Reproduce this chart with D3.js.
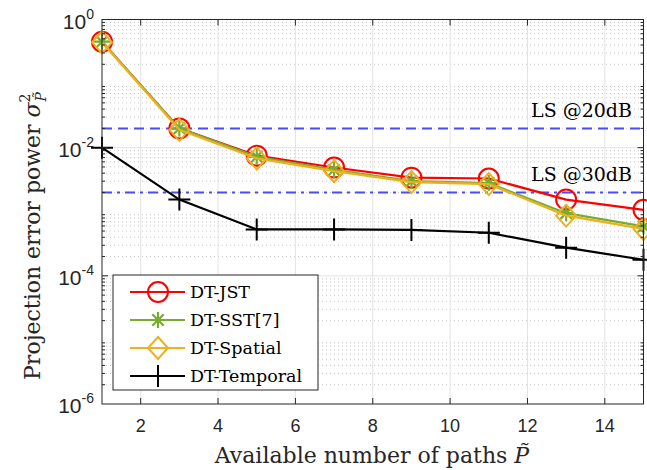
<!DOCTYPE html>
<html>
<head>
<meta charset="utf-8">
<script src="https://cdn.jsdelivr.net/npm/d3@7"></script>
<style>
  body { margin: 0; background: #fff; }
  svg { display: block; }
</style>
</head>
<body>
<script>
// data
var paths = [1, 3, 5, 7, 9, 11, 13, 15];
var jst      = [0.45, 0.020, 0.0075, 0.0049, 0.0034, 0.0033, 0.00155, 0.00107];
var sst      = [0.45, 0.020, 0.0072, 0.0045, 0.0030, 0.0028, 0.00095, 0.00059];
var spatial  = [0.44, 0.019, 0.0068, 0.0043, 0.0029, 0.0027, 0.00087, 0.00054];
var temporal = [0.010, 0.00155, 0.00053, 0.00053, 0.00052, 0.00047, 0.000275, 0.000178];
var ls_levels = [0.02, 0.002];
var ls_labels = ['LS @20dB', 'LS @30dB'];
var x_ticks = [2, 4, 6, 8, 10, 12, 14];
var y_exps = [0, -2, -4, -6];

function plot_it() {
  var width = 647, height = 470;
  var pl = 102, pr = 643.5, pt = 19.5, pb = 404;

  var svg = d3.select('body').append('svg').attr('width', width).attr('height', height);

  var x = d3.scaleLinear().domain([1, 15]).range([pl, pr]);
  var y = d3.scaleLog().domain([1e-6, 1]).range([pb, pt]);

  var g = svg.append('g');

  // grid: minor dotted, major solid
  var minors = [];
  for (var e = -6; e < 0; e++)
    for (var m = 2; m <= 9; m++) minors.push(m * Math.pow(10, e));
  g.selectAll('.minor').data(minors).enter().append('line')
    .attr('x1', pl).attr('x2', pr)
    .attr('y1', d => y(d)).attr('y2', d => y(d))
    .attr('stroke', '#c8c8c8').attr('stroke-width', 1).attr('stroke-dasharray', '1,3');
  g.selectAll('.majy').data([1e-2, 1e-4]).enter().append('line')
    .attr('x1', pl).attr('x2', pr)
    .attr('y1', d => y(d)).attr('y2', d => y(d))
    .attr('stroke', '#e3e3e3').attr('stroke-width', 1);
  g.selectAll('.majx').data(x_ticks).enter().append('line')
    .attr('x1', d => x(d)).attr('x2', d => x(d))
    .attr('y1', pt).attr('y2', pb)
    .attr('stroke', '#e3e3e3').attr('stroke-width', 1);

  // LS reference lines
  svg.selectAll('.ls').data(ls_levels).enter().append('line')
    .attr('x1', pl).attr('x2', pr)
    .attr('y1', d => y(d)).attr('y2', d => y(d))
    .attr('stroke', '#4a4aff').attr('stroke-width', 2)
    .attr('stroke-dasharray', (d, i) => i == 0 ? '10,6' : '10,5,3,5');
  svg.selectAll('.lslab').data(ls_levels).enter().append('text')
    .attr('x', 632).attr('y', d => y(d) - 11)
    .attr('text-anchor', 'end')
    .attr('font-family', 'DejaVu Serif, serif').attr('font-size', 19)
    .text((d, i) => ls_labels[i]);

  // series
  var series = [
    {name: 'DT-JST', values: jst, color: '#ff0000', marker: 'circle'},
    {name: 'DT-SST[7]', values: sst, color: '#77ac30', marker: 'star'},
    {name: 'DT-Spatial', values: spatial, color: '#edb120', marker: 'diamond'},
    {name: 'DT-Temporal', values: temporal, color: '#000000', marker: 'plus'}
  ];

  var line = d3.line().x(d => x(d[0])).y(d => y(d[1]));

  function draw_marker(sel, type, color) {
    if (type == 'circle') {
      sel.append('circle').attr('r', 10).attr('fill', 'none').attr('stroke', color).attr('stroke-width', 2);
    } else if (type == 'diamond') {
      sel.append('path').attr('d', 'M0,-11L10,0L0,11L-10,0Z').attr('fill', 'none').attr('stroke', color).attr('stroke-width', 2);
    } else if (type == 'star') {
      sel.append('path').attr('d', 'M0,-8V8M-8,0H8M-5.7,-5.7L5.7,5.7M-5.7,5.7L5.7,-5.7').attr('stroke', color).attr('stroke-width', 2.2);
    } else {
      sel.append('path').attr('d', 'M0,-11V11M-11,0H11').attr('stroke', color).attr('stroke-width', 2);
    }
  }

  series.forEach(s => {
    var pts = paths.map((p, i) => [p, s.values[i]]);
    svg.append('path').datum(pts).attr('d', line)
      .attr('fill', 'none').attr('stroke', s.color).attr('stroke-width', 2.2);
    pts.forEach(p => {
      var mk = svg.append('g').attr('transform', 'translate(' + x(p[0]) + ',' + y(p[1]) + ')');
      draw_marker(mk, s.marker, s.color);
    });
  });

  // axes box and ticks
  var axc = '#262626';
  svg.append('rect').attr('x', pl).attr('y', pt).attr('width', pr - pl).attr('height', pb - pt)
    .attr('fill', 'none').attr('stroke', axc).attr('stroke-width', 1);
  x_ticks.forEach(t => {
    svg.append('line').attr('x1', x(t)).attr('x2', x(t)).attr('y1', pb).attr('y2', pb - 6).attr('stroke', axc);
    svg.append('line').attr('x1', x(t)).attr('x2', x(t)).attr('y1', pt).attr('y2', pt + 6).attr('stroke', axc);
    svg.append('text').attr('x', x(t)).attr('y', pb + 28).attr('text-anchor', 'middle')
      .attr('font-family', 'Liberation Sans, Arial, sans-serif').attr('font-size', 18).attr('fill', axc).text(t);
  });
  minors.concat([1e-2, 1e-4]).forEach(v => {
    var len = (v == 1e-2 || v == 1e-4) ? 6 : 3;
    svg.append('line').attr('x1', pl).attr('x2', pl + len).attr('y1', y(v)).attr('y2', y(v)).attr('stroke', axc);
    svg.append('line').attr('x1', pr).attr('x2', pr - len).attr('y1', y(v)).attr('y2', y(v)).attr('stroke', axc);
  });
  y_exps.forEach(e => {
    var t = svg.append('text').attr('x', 94).attr('y', y(Math.pow(10, e)) + 9).attr('text-anchor', 'end')
      .attr('font-family', 'Liberation Sans, Arial, sans-serif').attr('font-size', 21).attr('fill', axc);
    t.append('tspan').text('10');
    t.append('tspan').attr('dy', -10).attr('font-size', 14).text(e);
  });

  // axis labels
  var xl = svg.append('text').attr('x', 372).attr('y', 463).attr('text-anchor', 'middle')
    .attr('font-family', 'DejaVu Serif, serif').attr('font-size', 22).attr('fill', '#262626');
  xl.append('tspan').text('Available number of paths ');
  xl.append('tspan').attr('font-style', 'italic').text('P\u0303');

  var yl = svg.append('text').attr('transform', 'translate(40,236) rotate(-90)')
    .attr('text-anchor', 'middle')
    .attr('font-family', 'DejaVu Serif, serif').attr('font-size', 22).attr('fill', '#262626');
  yl.append('tspan').text('Projection error power ');
  yl.append('tspan').attr('font-style', 'italic').text('\u03c3');
  yl.append('tspan').attr('dy', -10).attr('font-size', 14).text('2');
  yl.append('tspan').attr('dy', 16).attr('dx', -8).attr('font-size', 14).attr('font-style', 'italic').text('P\u0303');

  // legend
  var lg = svg.append('g').attr('transform', 'translate(113,275)');
  lg.append('rect').attr('width', 205).attr('height', 115).attr('fill', '#fff').attr('stroke', axc).attr('stroke-width', 1);
  series.forEach((s, i) => {
    var row = lg.append('g').attr('transform', 'translate(0,' + (17 + i * 28) + ')');
    row.append('line').attr('x1', 17).attr('x2', 72).attr('stroke', s.color).attr('stroke-width', 2.2);
    var mk = row.append('g').attr('transform', 'translate(45,0)');
    draw_marker(mk, s.marker, s.color);
    row.append('text').attr('x', 77).attr('y', 6).attr('font-family', 'DejaVu Serif, serif').attr('font-size', 17.5).text(s.name);
  });
}

plot_it();
</script>
</body>
</html>
